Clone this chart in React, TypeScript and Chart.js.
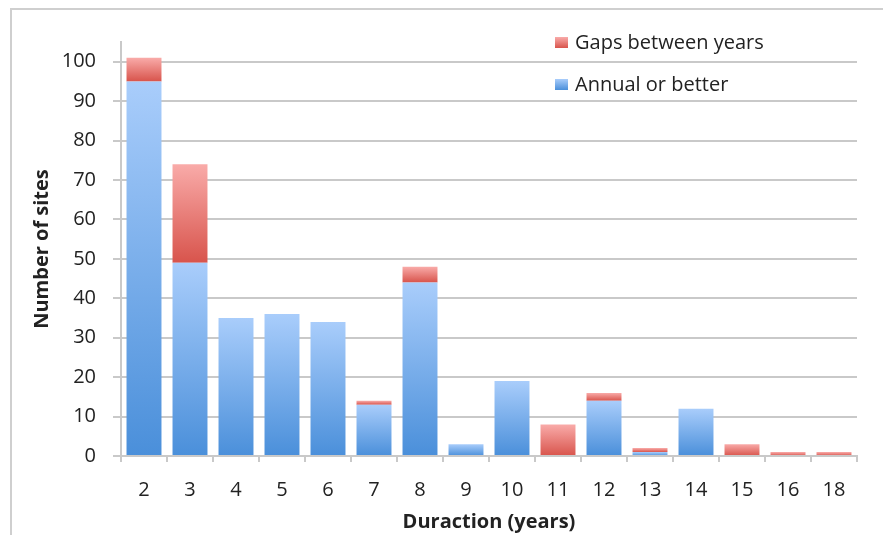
import React, { useEffect, useRef } from "react";
import { Chart, registerables } from "chart.js";

Chart.register(...registerables);

// Monitoring duration (years) and number of sites per duration
const durations = ["2", "3", "4", "5", "6", "7", "8", "9", "10", "11", "12", "13", "14", "15", "16", "18"];
const annualOrBetter = [95, 49, 35, 36, 34, 13, 44, 3, 19, 0, 14, 1, 12, 0, 0, 0];
const gapsBetweenYears = [6, 25, 0, 0, 0, 1, 4, 0, 0, 8, 2, 1, 0, 3, 1, 1];
const yTickValues = [0, 10, 20, 30, 40, 50, 60, 70, 80, 90, 100];

const FONT = "'Open Sans', 'DejaVu Sans', sans-serif";
const TEXT = "#222222";
const GRID = "#c9c9c9";

const BLUE = { top: "#a9cdfb", bottom: "#4a8fda" };
const RED = { top: "#f9aba9", bottom: "#d8544c" };

// Vertical gradient spanning one stacked segment
function segmentFill(ctx: any, shades: { top: string; bottom: string }, base: number[] | null, values: number[]) {
  const chart = ctx.chart;
  const y = chart.scales?.y;
  if (!y || ctx.type !== "data") return shades.bottom;
  const i = ctx.dataIndex;
  const lo = base ? base[i] : 0;
  const hi = lo + values[i];
  const top = y.getPixelForValue(hi);
  const bottom = y.getPixelForValue(lo);
  if (!isFinite(top) || !isFinite(bottom) || bottom - top < 0.5) return shades.bottom;
  const g = chart.ctx.createLinearGradient(0, top, 0, bottom);
  g.addColorStop(0, shades.top);
  g.addColorStop(1, shades.bottom);
  return g;
}

// Legend drawn inside the plot area, top-right, last series first
const insideLegend = {
  id: "insideLegend",
  afterDraw(chart: any) {
    const { ctx, chartArea } = chart;
    const items = [
      { label: chart.data.datasets[1].label, shades: RED },
      { label: chart.data.datasets[0].label, shades: BLUE },
    ];
    const boxX = chartArea.left + 434;
    const rowY = [chartArea.top + 1, chartArea.top + 43];
    ctx.save();
    ctx.font = `20px ${FONT}`;
    ctx.textBaseline = "middle";
    ctx.textAlign = "left";
    items.forEach((it, k) => {
      const cy = rowY[k];
      const g = ctx.createLinearGradient(0, cy - 6, 0, cy + 5);
      g.addColorStop(0, it.shades.top);
      g.addColorStop(1, it.shades.bottom);
      ctx.fillStyle = g;
      ctx.fillRect(boxX, cy - 6, 13, 11);
      ctx.fillStyle = TEXT;
      ctx.fillText(it.label, boxX + 20, cy);
    });
    ctx.restore();
  },
};

export default function App() {
  const canvasRef = useRef<HTMLCanvasElement | null>(null);

  useEffect(() => {
    if (!canvasRef.current) return;
    const chart = new Chart(canvasRef.current, {
      type: "bar",
      data: {
        labels: durations,
        datasets: [
          {
            label: "Annual or better",
            data: annualOrBetter,
            backgroundColor: (c: any) => segmentFill(c, BLUE, null, annualOrBetter),
            borderWidth: 0,
            categoryPercentage: 1,
            barPercentage: 0.76,
          },
          {
            label: "Gaps between years",
            data: gapsBetweenYears,
            backgroundColor: (c: any) => segmentFill(c, RED, annualOrBetter, gapsBetweenYears),
            borderWidth: 0,
            categoryPercentage: 1,
            barPercentage: 0.76,
          },
        ],
      },
      options: {
        responsive: false,
        animation: false,
        events: [],
        layout: { padding: { left: 0, right: 26, top: 42, bottom: 0 } },
        plugins: {
          legend: { display: false },
          tooltip: { enabled: false },
        },
        scales: {
          x: {
            stacked: true,
            offset: true,
            grid: {
              display: true,
              offset: true,
              drawOnChartArea: false,
              drawTicks: true,
              tickLength: 6,
              color: GRID,
              lineWidth: 2,
            },
            border: { display: true, color: GRID, width: 2 },
            ticks: { color: TEXT, font: { family: FONT, size: 20 }, padding: 16, maxRotation: 0, autoSkip: false },
            title: {
              display: true,
              text: "Duraction (years)",
              color: TEXT,
              font: { family: FONT, size: 20, weight: "bold" },
              padding: { top: 0, bottom: 1 },
            },
            afterFit: (s: any) => {
              s.height = 79;
            },
          },
          y: {
            stacked: true,
            min: 0,
            max: 105,
            grid: { color: GRID, lineWidth: 2, drawTicks: true, tickLength: 8 },
            border: { display: true, color: GRID, width: 2 },
            ticks: { stepSize: 10, color: TEXT, font: { family: FONT, size: 20 }, padding: 17 },
            afterBuildTicks: (s: any) => {
              s.ticks = yTickValues.map((v) => ({ value: v }));
            },
            title: {
              display: true,
              text: "Number of sites",
              color: TEXT,
              font: { family: FONT, size: 20, weight: "bold" },
              padding: { top: 30, bottom: 0 },
            },
            afterFit: (s: any) => {
              s.width = 121;
            },
          },
        },
      },
      plugins: [insideLegend],
    });
    return () => chart.destroy();
  }, []);

  return (
    <div style={{ position: "absolute", left: 0, top: 0, width: 883, height: 535, background: "#ffffff" }}>
      <div
        style={{
          position: "absolute",
          left: 10,
          top: 8,
          right: 0,
          bottom: 0,
          borderLeft: "2px solid #cfcfcf",
          borderTop: "2px solid #cfcfcf",
        }}
      />
      <canvas ref={canvasRef} width={883} height={535} style={{ position: "absolute", left: 0, top: 0 }} />
    </div>
  );
}
